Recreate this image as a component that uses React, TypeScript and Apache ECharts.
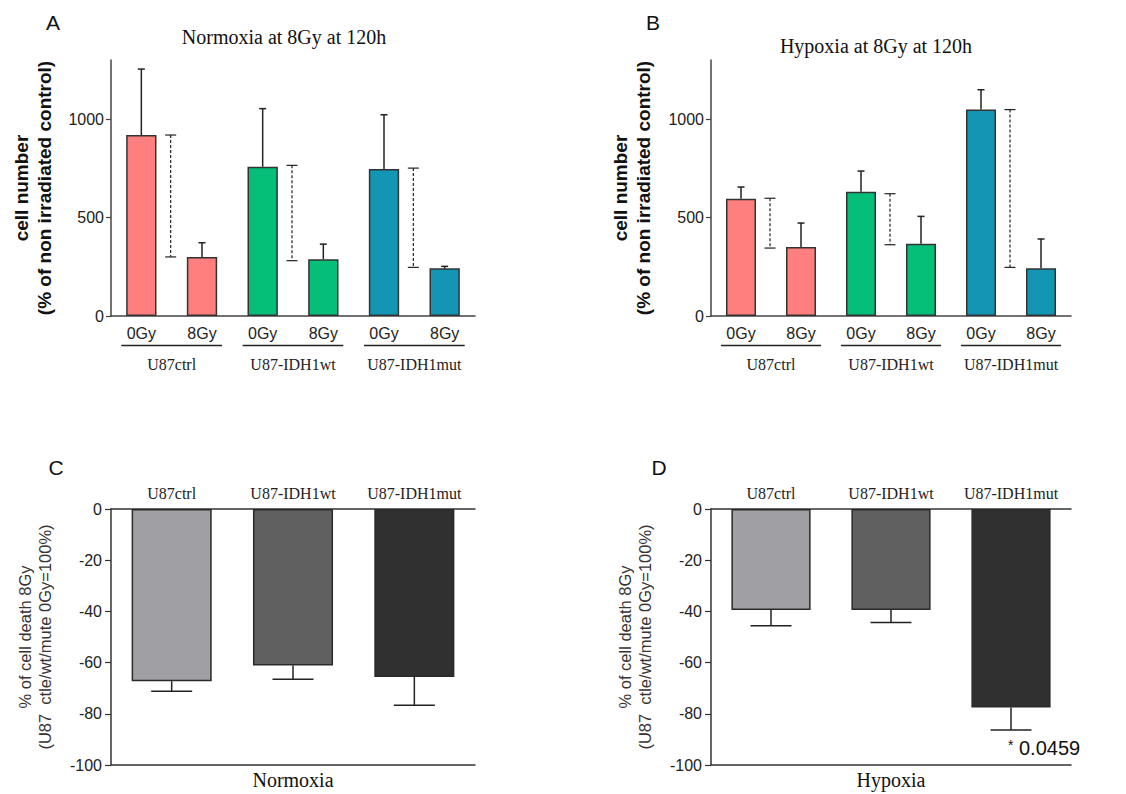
import React, { useEffect, useRef } from 'react';
import * as echarts from 'echarts';

// ---------- data ----------
const doseLabels = ['0Gy', '8Gy', '0Gy', '8Gy', '0Gy', '8Gy'];
const lineGroups = ['U87ctrl', 'U87-IDH1wt', 'U87-IDH1mut'];
const barColors = ['#FF7F7F', '#FF7F7F', '#05BE78', '#05BE78', '#1296B4', '#1296B4'];
const greyColors = ['#A0A0A4', '#606060', '#303030'];

const normoxiaMean = [919, 300, 758, 288, 746, 242];
const normoxiaErrTop = [1254, 372, 1053, 365, 1022, 252];
const normoxiaBracketTop = [919, 765, 751];
const normoxiaBracketBottom = [300, 281, 247];

const hypoxiaMean = [596, 350, 631, 367, 1048, 242];
const hypoxiaErrTop = [655, 472, 736, 506, 1149, 391];
const hypoxiaBracketTop = [598, 621, 1048];
const hypoxiaBracketBottom = [345, 362, 247];

const deathNormoxia = [-67.3, -61.1, -65.6];
const deathNormoxiaErr = [-71.2, -66.5, -76.7];
const deathHypoxia = [-39.5, -39.5, -77.5];
const deathHypoxiaErr = [-45.6, -44.3, -86.3];

const cellTicks = [0, 500, 1000];

// ---------- styles ----------
const SANS = 'Liberation Sans, Arial, sans-serif';
const SERIF = 'Liberation Serif, Times New Roman, serif';
const INK = '#222';
const AXIS = '#444';

function errSeries(xi: number, yi: number, means: number[], errs: number[], hw: number) {
  return {
    type: 'custom',
    xAxisIndex: xi,
    yAxisIndex: yi,
    silent: true,
    z: 5,
    data: means.map((m, i) => [i, m, errs[i]]),
    encode: { x: 0, y: [1, 2] },
    renderItem: (params: any, api: any) => {
      const p0 = api.coord([api.value(0), api.value(1)]);
      const p1 = api.coord([api.value(0), api.value(2)]);
      const st = { stroke: '#222', lineWidth: 1.5 };
      return {
        type: 'group',
        children: [
          { type: 'line', shape: { x1: p0[0], y1: p0[1], x2: p1[0], y2: p1[1] }, style: st },
          { type: 'line', shape: { x1: p1[0] - hw, y1: p1[1], x2: p1[0] + hw, y2: p1[1] }, style: st },
        ],
      };
    },
  };
}

function bracketSeries(xi: number, yi: number, tops: number[], bottoms: number[]) {
  return {
    type: 'custom',
    xAxisIndex: xi,
    yAxisIndex: yi,
    silent: true,
    z: 5,
    data: tops.map((t, g) => [g * 2, t, bottoms[g]]),
    encode: { x: 0, y: [1, 2] },
    renderItem: (params: any, api: any) => {
      const g0 = api.value(0);
      const a = api.coord([g0, api.value(1)]);
      const b = api.coord([g0 + 1, api.value(2)]);
      const x = (a[0] + b[0]) / 2 - 1;
      const st = { stroke: '#222', lineWidth: 1.2 };
      return {
        type: 'group',
        children: [
          { type: 'line', shape: { x1: x, y1: a[1], x2: x, y2: b[1] }, style: { ...st, lineDash: [3, 2] } },
          { type: 'line', shape: { x1: x - 5.5, y1: a[1], x2: x + 5.5, y2: a[1] }, style: st },
          { type: 'line', shape: { x1: x - 5.5, y1: b[1], x2: x + 5.5, y2: b[1] }, style: st },
        ],
      };
    },
  };
}

function underlineSeries(xi: number, yi: number) {
  return {
    type: 'custom',
    xAxisIndex: xi,
    yAxisIndex: yi,
    silent: true,
    z: 5,
    data: lineGroups.map((_, g) => [g * 2, 0]),
    encode: { x: 0, y: 1 },
    renderItem: (params: any, api: any) => {
      const g0 = api.value(0);
      const a = api.coord([g0, 0]);
      const b = api.coord([g0 + 1, 0]);
      const y = a[1] + 29.5;
      return {
        type: 'line',
        shape: { x1: a[0] - 20, y1: y, x2: b[0] + 20, y2: y },
        style: { stroke: '#222', lineWidth: 1.5 },
      };
    },
  };
}

const plain = (v: number) => String(v);

function cellYAxis(grid: number, nameGap: number) {
  return {
    type: 'value',
    gridIndex: grid,
    min: 0,
    max: 1300,
    interval: 500,
    axisLine: { show: true, lineStyle: { color: AXIS, width: 1.5 } },
    axisTick: { show: true, length: 5, customValues: cellTicks, lineStyle: { color: AXIS, width: 1.2 } },
    axisLabel: { customValues: cellTicks, formatter: plain, margin: 7, color: INK, fontSize: 16, fontFamily: SANS },
    splitLine: { show: false },
    name: 'cell number\n(% of non irradiated control)',
    nameLocation: 'middle',
    nameRotate: 90,
    nameGap,
    nameTextStyle: { fontFamily: SANS, fontSize: 19, fontWeight: 'bold', color: '#111', lineHeight: 23 },
  };
}

function deathYAxis(grid: number, nameGap: number) {
  return {
    type: 'value',
    gridIndex: grid,
    min: -100,
    max: 0,
    interval: 20,
    axisLine: { show: true, lineStyle: { color: '#333', width: 1.5 } },
    axisTick: { show: true, length: 6, lineStyle: { color: '#333', width: 1.2 } },
    axisLabel: { formatter: plain, margin: 9, color: INK, fontSize: 16, fontFamily: SANS },
    splitLine: { show: false },
    name: '% of cell death 8Gy\n(U87  ctle/wt/mute 0Gy=100%)',
    nameLocation: 'middle',
    nameRotate: 90,
    nameGap,
    nameTextStyle: { fontFamily: SANS, fontSize: 16.5, color: '#3a3333', lineHeight: 20 },
  };
}

function doseXAxis(grid: number) {
  return {
    type: 'category',
    gridIndex: grid,
    position: 'bottom',
    data: doseLabels,
    axisLine: { show: true, lineStyle: { color: AXIS, width: 1.5 } },
    axisTick: { show: false },
    axisLabel: { interval: 0, margin: 9, color: INK, fontSize: 16, fontFamily: SANS },
  };
}

function groupXAxis(grid: number) {
  return {
    type: 'category',
    gridIndex: grid,
    position: 'bottom',
    offset: 0,
    data: lineGroups,
    axisLine: { show: false },
    axisTick: { show: false },
    axisLabel: { interval: 0, margin: 40, color: INK, fontSize: 16, fontFamily: SERIF },
  };
}

function topXAxis(grid: number) {
  return {
    type: 'category',
    gridIndex: grid,
    position: 'top',
    data: lineGroups,
    axisLine: { show: true, onZero: false, lineStyle: { color: '#333', width: 1.5 } },
    axisTick: { show: false },
    axisLabel: { interval: 0, margin: 8, color: INK, fontSize: 16, fontFamily: SERIF },
  };
}

function bottomXAxis(grid: number, name: string) {
  return {
    type: 'category',
    gridIndex: grid,
    position: 'bottom',
    offset: 0,
    data: lineGroups,
    axisLine: { show: true, onZero: false, lineStyle: { color: '#333', width: 1.5 } },
    axisTick: { show: false },
    axisLabel: { show: false },
    name,
    nameLocation: 'middle',
    nameGap: 5,
    nameTextStyle: { fontFamily: SERIF, fontSize: 20, color: '#111', verticalAlign: 'top' },
  };
}

function cellBars(xi: number, yi: number, values: number[]) {
  return {
    type: 'bar',
    xAxisIndex: xi,
    yAxisIndex: yi,
    barWidth: '50%',
    data: values.map((v, i) => ({
      value: v,
      itemStyle: { color: barColors[i], borderColor: '#333', borderWidth: 1.5 },
    })),
  };
}

function deathBars(xi: number, yi: number, values: number[]) {
  return {
    type: 'bar',
    xAxisIndex: xi,
    yAxisIndex: yi,
    barWidth: '66%',
    data: values.map((v, i) => ({
      value: v,
      itemStyle: { color: greyColors[i], borderColor: '#2a2a2a', borderWidth: 1.5 },
    })),
  };
}

const option: any = {
  animation: false,
  backgroundColor: '#fff',
  textStyle: { fontFamily: SANS },
  grid: [
    { left: 111, top: 60, width: 364, height: 256 },
    { left: 711, top: 60, width: 360, height: 256 },
    { left: 111, top: 509, width: 364, height: 256 },
    { left: 711, top: 509, width: 360, height: 256 },
  ],
  xAxis: [
    doseXAxis(0),
    groupXAxis(0),
    doseXAxis(1),
    groupXAxis(1),
    topXAxis(2),
    bottomXAxis(2, 'Normoxia'),
    topXAxis(3),
    bottomXAxis(3, 'Hypoxia'),
  ],
  yAxis: [cellYAxis(0, 55), cellYAxis(1, 56), deathYAxis(2, 56), deathYAxis(3, 56)],
  series: [
    cellBars(0, 0, normoxiaMean),
    errSeries(0, 0, normoxiaMean, normoxiaErrTop, 3.5),
    bracketSeries(0, 0, normoxiaBracketTop, normoxiaBracketBottom),
    underlineSeries(0, 0),
    cellBars(2, 1, hypoxiaMean),
    errSeries(2, 1, hypoxiaMean, hypoxiaErrTop, 3.5),
    bracketSeries(2, 1, hypoxiaBracketTop, hypoxiaBracketBottom),
    underlineSeries(2, 1),
    deathBars(4, 2, deathNormoxia),
    errSeries(4, 2, deathNormoxia, deathNormoxiaErr, 20.5),
    deathBars(6, 3, deathHypoxia),
    errSeries(6, 3, deathHypoxia, deathHypoxiaErr, 20.5),
  ],
  graphic: [
    { type: 'text', x: 53, y: 22, style: { text: 'A', font: '21px ' + SANS, fill: '#111', textAlign: 'center', textVerticalAlign: 'middle' } },
    { type: 'text', x: 653, y: 22, style: { text: 'B', font: '21px ' + SANS, fill: '#111', textAlign: 'center', textVerticalAlign: 'middle' } },
    { type: 'text', x: 56, y: 467, style: { text: 'C', font: '21px ' + SANS, fill: '#111', textAlign: 'center', textVerticalAlign: 'middle' } },
    { type: 'text', x: 659, y: 467, style: { text: 'D', font: '21px ' + SANS, fill: '#111', textAlign: 'center', textVerticalAlign: 'middle' } },
    { type: 'text', x: 284, y: 37, style: { text: 'Normoxia at 8Gy at 120h', font: '20px ' + SERIF, fill: '#111', textAlign: 'center', textVerticalAlign: 'middle' } },
    { type: 'text', x: 876, y: 46, style: { text: 'Hypoxia at 8Gy at 120h', font: '20px ' + SERIF, fill: '#111', textAlign: 'center', textVerticalAlign: 'middle' } },
    { type: 'text', x: 1008, y: 745, style: { text: '*', font: '14px ' + SANS, fill: '#111', textAlign: 'left', textVerticalAlign: 'middle' } },
    { type: 'text', x: 1019, y: 748, style: { text: '0.0459', font: '20px ' + SANS, fill: '#111', textAlign: 'left', textVerticalAlign: 'middle' } },
  ],
};

export default function App() {
  const ref = useRef<HTMLDivElement>(null);
  useEffect(() => {
    const chart = echarts.init(ref.current!, null, { renderer: 'svg' });
    chart.setOption(option);
    return () => chart.dispose();
  }, []);
  return (
    <div
      ref={ref}
      style={{ position: 'absolute', left: 0, top: 0, width: 1126, height: 794, background: '#fff' }}
    />
  );
}
